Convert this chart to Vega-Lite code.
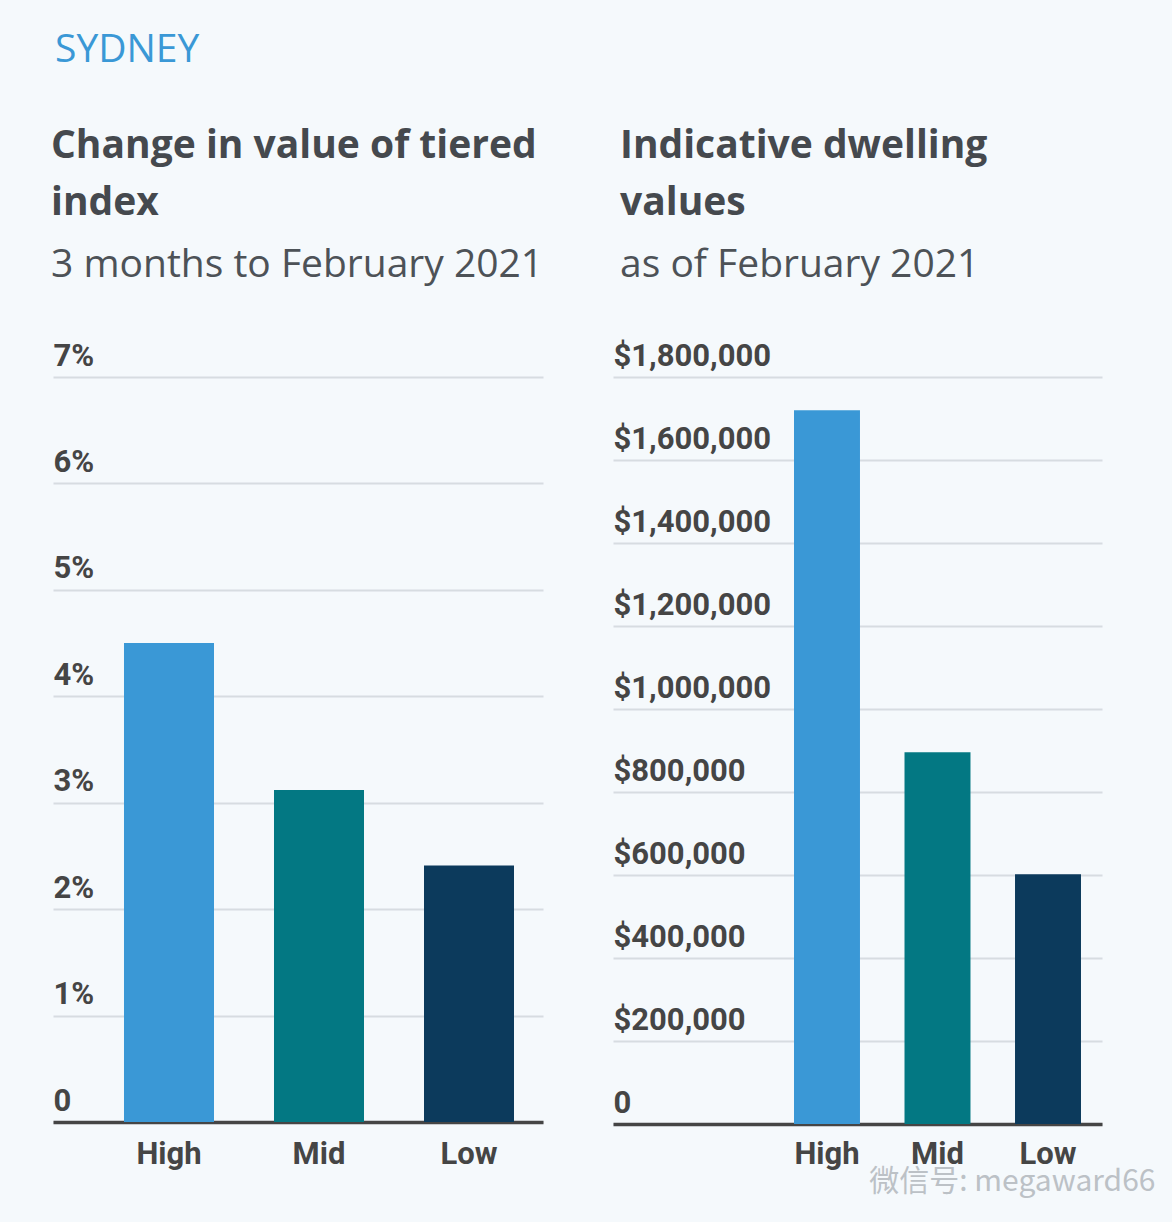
{
  "$schema": "https://vega.github.io/schema/vega-lite/v6.json",
  "autosize": {"type": "pad"},
  "padding": {"left": 51, "top": 31, "right": 17, "bottom": 36},
  "background": "#f5f9fc",
  "bounds": "flush",
  "spacing": 70,
  "title": {
    "text": "SYDNEY",
    "anchor": "start",
    "frame": "group",
    "font": "Open Sans",
    "fontSize": 39,
    "fontWeight": "normal",
    "color": "#3a98d6",
    "baseline": "alphabetic",
    "offset": 26,
    "dx": 2
  },
  "datasets": {
    "change": [
      {"tier": "High", "pct": 4.5},
      {"tier": "Mid", "pct": 3.12},
      {"tier": "Low", "pct": 2.41}
    ],
    "values": [
      {"tier": "High", "value": 1720000},
      {"tier": "Mid", "value": 896000},
      {"tier": "Low", "value": 602000}
    ]
  },
  "config": {
    "view": {"stroke": null},
    "title": {
      "anchor": "start",
      "frame": "group",
      "font": "Open Sans",
      "fontSize": 39,
      "fontWeight": "bold",
      "color": "#45494e",
      "lineHeight": 57,
      "subtitleFont": "Open Sans",
      "subtitleFontSize": 39,
      "subtitleFontWeight": "normal",
      "subtitleColor": "#4d5257",
      "subtitlePadding": 23,
      "offset": 55
    },
    "axisX": {
      "labelFont": "Roboto",
      "labelFontSize": 31,
      "labelFontWeight": "bold",
      "labelColor": "#454545",
      "labelAngle": 0,
      "labelPadding": 17,
      "ticks": false,
      "tickSize": 0,
      "domainColor": "#454545",
      "domainWidth": 3.5,
      "grid": false,
      "zindex": 1
    },
    "axisY": {
      "labelFont": "Roboto",
      "labelFontSize": 31,
      "labelFontWeight": "bold",
      "labelColor": "#454545",
      "labelAlign": "left",
      "labelBaseline": "alphabetic",
      "labelOffset": -12,
      "labelPadding": 0,
      "labelFlush": false,
      "ticks": false,
      "tickSize": 0,
      "domain": false,
      "gridColor": "#d7dce1",
      "gridWidth": 2
    }
  },
  "hconcat": [
    {
      "width": 490,
      "height": 745,
      "data": {"name": "change"},
      "title": {
        "text": ["Change in value of tiered", "index"],
        "subtitle": "3 months to February 2021",
        "dx": -2
      },
      "mark": {"type": "bar"},
      "encoding": {
        "x": {
          "field": "tier",
          "type": "nominal",
          "sort": ["High", "Mid", "Low"],
          "scale": {"paddingInner": 0.4, "paddingOuter": 0.3333, "align": 0.71},
          "axis": {"title": null}
        },
        "y": {
          "field": "pct",
          "type": "quantitative",
          "scale": {"domain": [0, 7], "nice": false},
          "axis": {
            "title": null,
            "values": [0, 1, 2, 3, 4, 5, 6, 7],
            "labelExpr": "datum.value == 0 ? '0' : datum.value + '%'"
          }
        },
        "color": {
          "field": "tier",
          "type": "nominal",
          "scale": {"domain": ["High", "Mid", "Low"], "range": ["#3a98d6", "#037883", "#0c3a5c"]},
          "legend": null
        }
      }
    },
    {
      "width": 489,
      "height": 747,
      "data": {"name": "values"},
      "title": {
        "text": ["Indicative dwelling", "values"],
        "subtitle": "as of February 2021",
        "dx": 7
      },
      "mark": {"type": "bar"},
      "encoding": {
        "x": {
          "field": "tier",
          "type": "nominal",
          "sort": ["High", "Mid", "Low"],
          "scale": {"paddingInner": 0.403, "paddingOuter": 0.914, "align": 0.896},
          "axis": {
            "labelPadding": 15,
            "title": "微信号: megaward66",
            "titleFont": "Noto Sans CJK SC",
            "titleFontSize": 30,
            "titleFontWeight": "normal",
            "titleColor": "#bcc1c6",
            "titleAlign": "right",
            "titleBaseline": "alphabetic",
            "titleX": 542,
            "titleY": 66
          }
        },
        "y": {
          "field": "value",
          "type": "quantitative",
          "scale": {"domain": [0, 1800000], "nice": false},
          "axis": {
            "title": null,
            "values": [0, 200000, 400000, 600000, 800000, 1000000, 1200000, 1400000, 1600000, 1800000],
            "labelExpr": "datum.value == 0 ? '0' : '$' + format(datum.value, ',')"
          }
        },
        "color": {
          "field": "tier",
          "type": "nominal",
          "scale": {"domain": ["High", "Mid", "Low"], "range": ["#3a98d6", "#037883", "#0c3a5c"]},
          "legend": null
        }
      }
    }
  ]
}
